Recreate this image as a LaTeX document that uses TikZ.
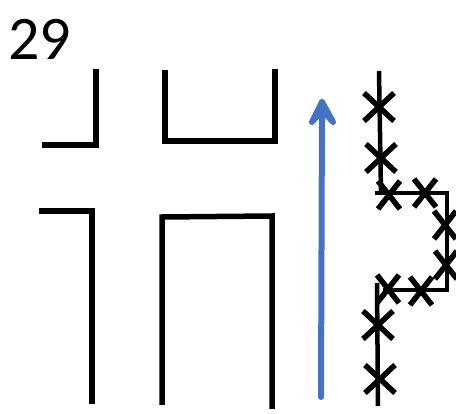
\documentclass[tikz,border=0pt]{standalone}
\usepackage{fontspec}
\setmainfont{Carlito}
\definecolor{arrowblue}{HTML}{4472C4}
\tikzset{
  wall/.style={line width=5.5pt,black,line join=miter},
  cross/.style={line width=5.5pt,black},
  track/.style={line width=4.5pt,black},
  flow/.style={line width=6pt,arrowblue,line cap=round,line join=round}
}
\begin{document}
\begin{tikzpicture}[x=1pt,y=-1pt]
  \useasboundingbox (0,0) rectangle (456,414);%
  \node[anchor=base west,inner sep=0pt,font=\fontsize{62}{62}\selectfont] (title) at (8,60) {29};%
  % road edges
  \draw[wall] (96,69) -- (96,145) -- (42,145);%
  \draw[wall] (165,70) -- (165,141) -- (275,141) -- (275,69);%
  \draw[wall] (39,211) -- (92,211) -- (92,404);%
  \draw[wall] (162,405) -- (162,217) -- (272,216) -- (272,409);%
  % direction
  \draw[flow] (321,397) -- (322,102);%
  \draw[flow,fill=arrowblue] (312,122) -- (322,102) -- (333,122) -- (322,110) -- cycle;%
  % track
  \draw[track] (379,71) -- (381,193);%
  \draw[track] (375,193) -- (447,193) -- (447,290) -- (383,290);%
  \draw[track] (377,283) -- (378,406);%
  % wide crosses
  \foreach \cx/\cy in {379/107,381/158,378/325,380/379}
    \draw[cross] (\cx-15,\cy-14) -- (\cx+15,\cy+14) (\cx-15,\cy+14) -- (\cx+15,\cy-14);%
  % tall crosses
  \foreach \cx/\cy in {389/195,425/193,445/225,446/265,421/291,388/289}
    \draw[cross] (\cx-11,\cy-14) -- (\cx+11,\cy+14) (\cx-11,\cy+14) -- (\cx+11,\cy-14);%
\end{tikzpicture}
\end{document}
